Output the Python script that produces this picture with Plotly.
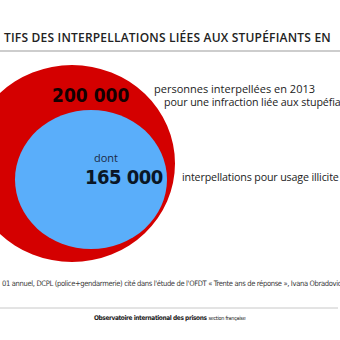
import plotly.graph_objects as go

# ---- data ----
values = [200000, 165000]
value_labels = ["200 000", "165 000"]
desc_total = ["personnes interpellées en 2013", "pour une infraction liée aux stupéfia"]
desc_usage = "interpellations pour usage illicite"
prefix_usage = "dont"
title_text = "TIFS DES INTERPELLATIONS LIÉES AUX STUPÉFIANTS EN"
source_text = "01 annuel, DCPL (police+gendarmerie) cité dans l'étude de l'OFDT « Trente ans de réponse », Ivana Obradovic"
footer_bold = "Observatoire international des prisons"
footer_light = "section française"

RED = "#d40000"
BLUE = "#5aaefa"

fig = go.Figure()
fig.add_trace(go.Scatter(x=[0, 340], y=[0, 340], mode="markers",
                         marker=dict(opacity=0), hoverinfo="skip", showlegend=False))

shapes = [
    dict(type="line", xref="x", yref="y", x0=0, x1=340, y0=51, y1=51,
         line=dict(color="#bdbdbd", width=1.5)),
    dict(type="circle", xref="x", yref="y", x0=-31, x1=175, y0=65, y1=262,
         fillcolor=RED, line=dict(width=0), layer="below"),
    dict(type="circle", xref="x", yref="y", x0=15, x1=167, y0=110, y1=249,
         fillcolor=BLUE, line=dict(width=0), layer="below"),
    dict(type="line", xref="x", yref="y", x0=0, x1=338, y0=308, y1=308,
         line=dict(color="#c8c8c8", width=1)),
]

anns = []
def ann(text, x, y, size, family, color, xanchor="left", weight="normal"):
    anns.append(dict(text=text, x=x, y=y, xref="x", yref="y", showarrow=False,
                     xanchor=xanchor, yanchor="middle",
                     font=dict(size=size, family=family, color=color, weight=weight)))

def spaced(t, ls):
    return "<span style='letter-spacing:%spx'>%s</span>" % (ls, t)

ann(spaced(title_text, 0.2), 2, 37, 12, "Open Sans", "#222222", weight=600)
ann(spaced(value_labels[0], 0.0), 90, 95, 19, "DejaVu Sans Condensed", "#140000", xanchor="center", weight="bold")
ann(desc_total[0], 152, 88, 11, "Open Sans", "#222222")
ann(spaced(desc_total[1], -0.1), 162, 102, 10.7, "Open Sans", "#222222")
ann(prefix_usage, 92, 157, 11, "Open Sans", "#1a2a44")
ann(spaced(value_labels[1], -0.5), 124, 177, 20, "DejaVu Sans Condensed", "#0a1626", xanchor="center", weight="bold")
ann(spaced(desc_usage, -0.15), 180, 177, 10.7, "Open Sans", "#222222")
ann(spaced(source_text, -0.35), 0, 283, 7.55, "DejaVu Sans Condensed", "#3a3a3a")
ann("<b>" + spaced(footer_bold, -0.4) + "</b> <span style='font-size:5.5px;letter-spacing:-0.3px'>" + footer_light + "</span>",
    170, 318, 6.5, "DejaVu Sans Condensed", "#222222", xanchor="center")

fig.update_layout(
    width=340, height=340, margin=dict(l=0, r=0, t=0, b=0),
    paper_bgcolor="white", plot_bgcolor="white",
    xaxis=dict(range=[0, 340], visible=False, fixedrange=True),
    yaxis=dict(range=[340, 0], visible=False, fixedrange=True),
    shapes=shapes, annotations=anns, showlegend=False,
)
fig.write_html("out.html")
